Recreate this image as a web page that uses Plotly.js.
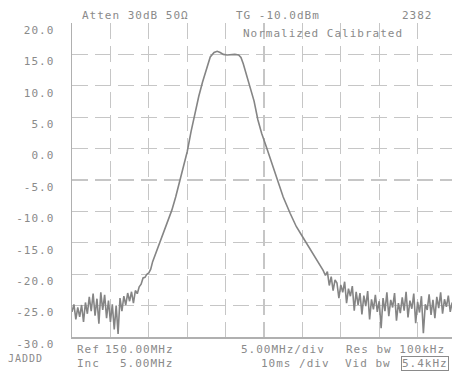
<!DOCTYPE html>
<html>
<head>
<meta charset="utf-8">
<script src="https://cdn.plot.ly/plotly-3.0.1.min.js"></script>
<style>
  html, body { margin: 0; padding: 0; background: #fff; }
  #plot { width: 452px; height: 371px; }
  /* plotter-style wide lettering */
  .annotation-text, .ytick text { letter-spacing: 1px; }
</style>
</head>
<body>
<div id="plot"></div>
<script>
// Swept filter response, frequency in MHz, level in dB
const freqMHz = [
  125.00,125.25,125.50,125.75,126.00,126.25,126.50,126.75,127.00,127.25,
  127.50,127.75,128.00,128.25,128.50,128.75,129.00,129.25,129.50,129.75,
  130.00,130.25,130.50,130.75,131.00,131.25,131.50,131.75,132.00,132.25,
  132.50,132.75,133.00,133.25,133.50,133.75,134.00,134.25,134.50,134.75,
  135.00,135.25,135.50,135.75,136.00,136.50,137.00,137.50,138.00,138.50,
  139.00,139.50,140.00,140.50,141.00,141.50,142.00,142.50,143.00,143.50,
  143.90,144.30,144.70,145.20,145.70,146.20,146.70,147.00,147.30,147.70,
  148.20,148.70,149.20,149.70,150.30,151.00,151.70,152.50,153.40,154.20,
  155.10,156.00,156.90,157.30,157.70,
  158.00,158.25,158.50,158.75,159.00,159.25,159.50,159.75,160.00,160.25,
  160.50,160.75,161.00,161.25,161.50,161.75,162.00,162.25,162.50,162.75,
  163.00,163.25,163.50,163.75,164.00,164.25,164.50,164.75,165.00,165.25,
  165.50,165.75,166.00,166.25,166.50,166.75,167.00,167.25,167.50,167.75,
  168.00,168.25,168.50,168.75,169.00,169.25,169.50,169.75,170.00,170.25,
  170.50,170.75,171.00,171.25,171.50,171.75,172.00,172.25,172.50,172.75,
  173.00,173.25,173.50,173.75,174.00,174.25,174.50
];
const levelDB = [
  -26.0,-24.8,-27.2,-25.3,-26.8,-24.9,-27.6,-24.5,-26.3,-23.6,
  -25.9,-23.1,-26.6,-23.9,-27.9,-22.9,-25.7,-23.3,-27.0,-24.2,
  -27.6,-24.8,-28.8,-25.0,-29.5,-23.8,-25.9,-23.5,-24.9,-23.0,
  -24.3,-22.8,-24.6,-22.6,-23.1,-22.0,-21.6,-20.6,-20.5,-20.0,
  -19.8,-19.2,-18.0,-17.2,-16.3,-14.8,-13.1,-11.4,-9.8,-7.7,
  -5.3,-3.0,-0.5,2.7,5.6,8.3,10.6,12.8,14.6,15.3,
  15.5,15.3,15.0,14.9,15.0,15.0,14.9,14.5,13.5,11.8,
  9.8,7.6,4.6,2.4,0.3,-2.3,-4.8,-7.7,-10.3,-12.4,
  -14.2,-16.0,-17.7,-18.6,-19.4,
  -20.2,-19.6,-21.8,-20.4,-22.6,-20.9,-21.4,-23.8,-21.7,-22.9,
  -21.2,-24.6,-22.3,-23.5,-21.9,-25.8,-22.8,-24.9,-23.0,-26.4,
  -23.4,-25.1,-22.7,-27.2,-24.0,-25.6,-23.3,-26.0,-24.3,-28.6,
  -23.8,-25.9,-22.9,-26.7,-24.1,-25.3,-23.0,-27.4,-24.6,-26.2,
  -23.7,-25.8,-22.8,-26.9,-24.2,-25.5,-23.1,-27.8,-24.4,-26.1,
  -23.5,-29.4,-24.8,-25.7,-23.2,-26.5,-24.1,-27.0,-23.6,-25.4,
  -22.9,-26.3,-24.0,-25.2,-23.4,-26.0,-24.5
];

// Display scale: reference 150 MHz, 5 MHz/div, 5 dB/div
const yTicks = [20, 15, 10, 5, 0, -5, -10, -15, -20, -25, -30];
const yTickText = ['20.0','15.0','10.0','5.0','0.0','-5.0','-10.0','-15.0','-20.0','-25.0','-30.0'];

const W = 452, H = 371;
const M = { l: 72, r: 0, t: 23, b: 34 };
const plotW = W - M.l - M.r, plotH = H - M.t - M.b;
const pxPerMHz = 7.68;
const xStart = 125;
const xEnd = xStart + plotW / pxPerMHz;

const ink = '#8a8a8a';
const gridInk = '#c6c6c6';
const fontFam = '"DejaVu Sans Mono", "Liberation Mono", monospace';

// convert screen pixel position to paper coordinates for labels
function px(x) { return (x - M.l) / plotW; }
function py(y) { return (H - M.b - y) / plotH; }

function label(text, x, y, extra) {
  return Object.assign({
    text: text, xref: 'paper', yref: 'paper',
    x: px(x), y: py(y), xanchor: 'left', yanchor: 'middle',
    showarrow: false, font: { family: fontFam, size: 11, color: ink }
  }, extra || {});
}

const annotations = [
  label('Atten 30dB 50Ω', 80, 16),
  label('TG -10.0dBm', 234, 16),
  label('2382', 400, 16),
  label('Normalized Calibrated', 241, 33),
  label('JADDD', 6, 358, { font: { family: fontFam, size: 10, color: ink } }),
  label('Ref', 75, 349),
  label('150.00MHz', 103, 349),
  label('Inc', 75, 363),
  label('5.00MHz', 118, 363),
  label('5.00MHz/div', 239, 349),
  label('10ms /div', 259, 363),
  label('Res bw 100kHz', 344, 349),
  label('Vid bw', 343, 363),
  label('5.4kHz', 401, 363, { bordercolor: ink, borderwidth: 1, borderpad: 0 })
];

const trace = {
  x: freqMHz, y: levelDB,
  type: 'scatter', mode: 'lines',
  line: { color: '#858585', width: 1.6 },
  hoverinfo: 'skip'
};

const layout = {
  width: W, height: H,
  margin: M,
  paper_bgcolor: '#ffffff', plot_bgcolor: '#ffffff',
  showlegend: false,
  xaxis: {
    range: [xStart, xEnd], dtick: 5, tick0: 125,
    showticklabels: false, ticks: '',
    showgrid: true, gridcolor: gridInk, gridwidth: 1.3, griddash: '16px,7px',
    showline: true, linecolor: '#b0b0b0', linewidth: 1.5,
    zeroline: false, fixedrange: true
  },
  yaxis: {
    range: [-30, 20], tickmode: 'array', tickvals: yTicks, ticktext: yTickText,
    ticks: '', ticklabelstandoff: 14, ticklabelshift: 7,
    tickfont: { family: fontFam, size: 11, color: ink },
    showgrid: true, gridcolor: gridInk, gridwidth: 1.3, griddash: '16px,7px',
    showline: true, linecolor: '#b0b0b0', linewidth: 1.5,
    zeroline: false, fixedrange: true
  },
  annotations: annotations
};

Plotly.newPlot('plot', [trace], layout, { staticPlot: true, displayModeBar: false });
</script>
</body>
</html>
